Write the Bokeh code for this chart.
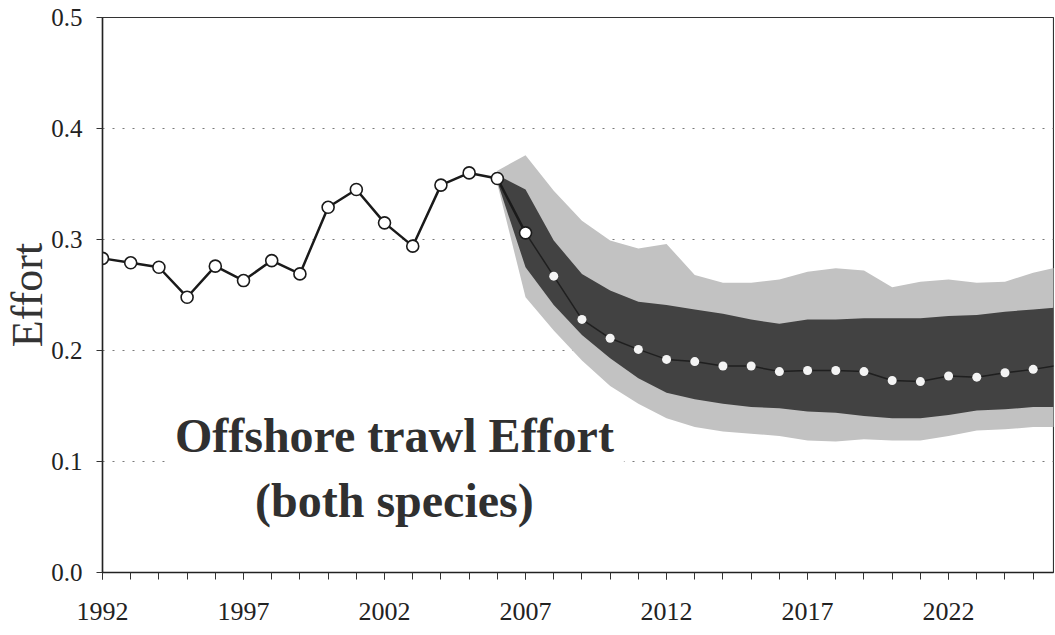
from bokeh.plotting import figure
from bokeh.models import FixedTicker, NumeralTickFormatter, Label, Range1d
from bokeh.embed import file_html
from bokeh.resources import INLINE

# ---- data ----
years_hist = list(range(1992, 2008))
effort_hist = [0.283, 0.279, 0.275, 0.248, 0.276, 0.263, 0.281, 0.269,
               0.329, 0.345, 0.315, 0.294, 0.349, 0.360, 0.355, 0.306]

years_med = list(range(2008, 2027))
effort_med = [0.267, 0.228, 0.211, 0.201, 0.192, 0.190, 0.186, 0.186, 0.181,
              0.182, 0.182, 0.181, 0.173, 0.172, 0.177, 0.176, 0.180, 0.183, 0.187]

years_band = list(range(2006, 2027))
outer_hi = [0.362, 0.376, 0.344, 0.317, 0.299, 0.292, 0.296, 0.268, 0.261, 0.261, 0.264,
            0.271, 0.274, 0.272, 0.257, 0.262, 0.264, 0.261, 0.262, 0.270, 0.276]
inner_hi = [0.358, 0.345, 0.299, 0.269, 0.254, 0.244, 0.241, 0.237, 0.233, 0.228, 0.224,
            0.228, 0.228, 0.229, 0.229, 0.229, 0.231, 0.232, 0.235, 0.237, 0.239]
inner_lo = [0.352, 0.275, 0.241, 0.214, 0.193, 0.175, 0.162, 0.156, 0.152, 0.149, 0.148,
            0.145, 0.144, 0.141, 0.139, 0.139, 0.142, 0.146, 0.147, 0.149, 0.149]
outer_lo = [0.350, 0.248, 0.218, 0.191, 0.168, 0.152, 0.139, 0.131, 0.127, 0.125, 0.123,
            0.119, 0.118, 0.120, 0.119, 0.119, 0.123, 0.128, 0.129, 0.131, 0.131]

x_label_years = [1992, 1997, 2002, 2007, 2012, 2017, 2022]
x_minor_years = list(range(1992, 2027))
y_ticks = [0.0, 0.1, 0.2, 0.3, 0.4, 0.5]

title_line1 = "Offshore trawl Effort"
title_line2 = "(both species)"
y_title = "Effort"

SERIF = "Liberation Serif"

p = figure(width=1054, height=634,
           x_range=Range1d(1992, 2025.72), y_range=Range1d(0, 0.5),
           output_backend="svg", toolbar_location=None,
           min_border_left=101, min_border_right=1,
           min_border_top=17, min_border_bottom=62)

p.background_fill_color = "white"
p.border_fill_color = "white"
p.outline_line_color = "#333333"
p.outline_line_width = 1.2

# x axis
p.xaxis.ticker = FixedTicker(ticks=x_label_years, minor_ticks=x_minor_years)
p.xaxis.major_tick_out = 7
p.xaxis.major_tick_in = 0
p.xaxis.minor_tick_out = 7
p.xaxis.minor_tick_in = 0
p.xaxis.major_label_standoff = 23
p.xaxis.major_label_text_font = SERIF
p.xaxis.major_label_text_font_size = "26px"
p.xaxis.major_label_text_color = "#222222"

# y axis
p.yaxis.ticker = FixedTicker(ticks=y_ticks)
p.yaxis.formatter = NumeralTickFormatter(format="0.0")
p.yaxis.major_tick_out = 6
p.yaxis.major_tick_in = 0
p.yaxis.major_label_standoff = 14
p.yaxis.major_label_text_font = SERIF
p.yaxis.major_label_text_font_size = "25px"
p.yaxis.major_label_text_color = "#222222"
p.yaxis.axis_label = y_title
p.yaxis.axis_label_text_font = SERIF
p.yaxis.axis_label_text_font_size = "44px"
p.yaxis.axis_label_text_font_style = "normal"
p.yaxis.axis_label_text_color = "#333333"
p.yaxis.axis_label_standoff = -4

for ax in (p.xaxis, p.yaxis):
    ax.axis_line_color = "#222222"
    ax.axis_line_width = 1.5
    ax.major_tick_line_color = "#333333"
p.xaxis.minor_tick_line_color = "#333333"
p.yaxis.minor_tick_line_color = None

p.xgrid.visible = False
p.ygrid.ticker = FixedTicker(ticks=y_ticks)
p.ygrid.grid_line_color = "#7a7a7a"
p.ygrid.grid_line_dash = "2 8"
p.ygrid.grid_line_width = 1

# bands
p.varea(x=years_band, y1=outer_lo, y2=outer_hi, fill_color="#c2c2c2")
p.varea(x=years_band, y1=inner_lo, y2=inner_hi, fill_color="#424242")

# projected median
p.line(x=years_hist[-1:] + years_med, y=effort_hist[-1:] + effort_med,
       line_color="#1f1f1f", line_width=1.5)
p.scatter(x=years_med, y=effort_med, size=9, marker="circle",
          fill_color="#f4f4f4", line_color=None)

# historical series
p.line(x=years_hist, y=effort_hist, line_color="#1a1a1a", line_width=2.5)
p.scatter(x=years_hist, y=effort_hist, size=12, marker="circle",
          fill_color="white", line_color="#1a1a1a", line_width=1.6)

# in-plot title
p.add_layout(Label(x=2002.35, y=0.1234, text=title_line1,
                   text_align="center", text_baseline="alphabetic",
                   text_font=SERIF, text_font_size="48px", text_font_style="bold",
                   text_color="#303030", background_fill_color="white",
                   padding=10))
p.add_layout(Label(x=2002.35, y=0.065, text=title_line2,
                   text_align="center", text_baseline="alphabetic",
                   text_font=SERIF, text_font_size="48px", text_font_style="bold",
                   text_color="#303030"))

open("out.html", "w").write(file_html(p, INLINE))
